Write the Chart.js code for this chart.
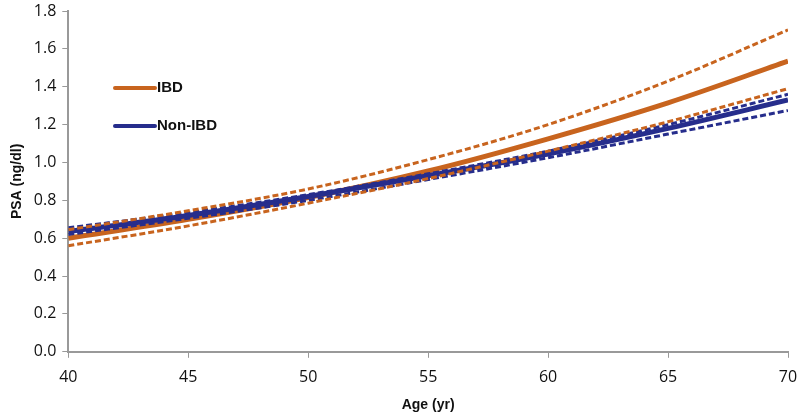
<!DOCTYPE html>
<html>
<head>
<meta charset="utf-8">
<script src="https://cdn.jsdelivr.net/npm/chart.js@4"></script>
<style>
  body { margin: 0; background: #fff; }
  #wrap { width: 800px; height: 416px; }
</style>
</head>
<body>
<div id="wrap"><canvas id="psaChart"></canvas></div>
<script>
const ages = [40, 45, 50, 55, 60, 65, 70];
const ibdMean = [0.60, 0.70, 0.815, 0.955, 1.125, 1.315, 1.535];
const ibdUpper = [0.645, 0.745, 0.86, 1.015, 1.20, 1.43, 1.70];
const ibdLower = [0.56, 0.665, 0.785, 0.915, 1.06, 1.215, 1.39];
const nonIbdMean = [0.635, 0.72, 0.82, 0.93, 1.045, 1.18, 1.33];
const nonIbdUpper = [0.655, 0.735, 0.83, 0.94, 1.06, 1.20, 1.36];
const nonIbdLower = [0.62, 0.705, 0.80, 0.91, 1.025, 1.15, 1.275];
const yTicks = [0, 0.2, 0.4, 0.6, 0.8, 1.0, 1.2, 1.4, 1.6, 1.8];

const orange = "#c8641e";
const navy = "#262d8c";

function points(vals) {
  return ages.map((a, i) => ({ x: a, y: vals[i] }));
}

function line(label, vals, color, dashed) {
  return {
    label: label,
    data: points(vals),
    borderColor: color,
    borderWidth: dashed ? 3 : 5,
    borderDash: dashed ? [6, 3] : [],
    pointRadius: 0,
    cubicInterpolationMode: "monotone",
    fill: false
  };
}

// legend drawn inside the plot area like the original
const legendInside = {
  id: "legendInside",
  afterDraw(chart) {
    const ctx = chart.ctx;
    const items = [["IBD", orange], ["Non-IBD", navy]];
    ctx.save();
    ctx.font = "bold 15px 'Liberation Sans', Arial, sans-serif";
    ctx.textBaseline = "middle";
    items.forEach((it, i) => {
      const y = 88 + i * 38;
      ctx.strokeStyle = it[1];
      ctx.lineWidth = 4;
      ctx.lineCap = "round";
      ctx.beginPath();
      ctx.moveTo(115, y);
      ctx.lineTo(155, y);
      ctx.stroke();
      ctx.fillStyle = "#111";
      ctx.fillText(it[0], 157, y);
    });
    ctx.restore();
  }
};

new Chart(document.getElementById("psaChart"), {
  type: "line",
  data: {
    datasets: [
      line("IBD upper", ibdUpper, orange, true),
      line("IBD lower", ibdLower, orange, true),
      line("Non-IBD upper", nonIbdUpper, navy, true),
      line("Non-IBD lower", nonIbdLower, navy, true),
      line("Non-IBD", nonIbdMean, navy, false),
      line("IBD", ibdMean, orange, false)
    ]
  },
  options: {
    responsive: true,
    maintainAspectRatio: false,
    animation: false,
    layout: { padding: { top: 0, right: 0, left: 5, bottom: 0 } },
    plugins: { legend: { display: false }, tooltip: { enabled: false } },
    scales: {
      x: {
        type: "linear",
        min: 40,
        max: 70,
        afterFit(scale) { scale.paddingRight = 12; },
        ticks: { stepSize: 5, color: "#111", font: { size: 16, family: "'Open Sans', sans-serif" }, padding: 10 },
        grid: { drawOnChartArea: false, color: "#999", tickLength: 6 },
        border: { color: "#999", width: 2 },
        title: { display: true, text: "Age (yr)", color: "#111", font: { size: 14, weight: "bold", lineHeight: 1.0, family: "'Liberation Sans', Arial, sans-serif" }, padding: { top: 1, bottom: 4 } }
      },
      y: {
        min: 0,
        max: 1.8,
        afterFit(scale) { scale.paddingTop = 11; },
        afterBuildTicks(axis) { axis.ticks = yTicks.map(v => ({ value: v })); },
        ticks: { color: "#111", font: { size: 16, family: "'Open Sans', sans-serif" }, padding: 6, callback: v => v.toFixed(1) },
        grid: { drawOnChartArea: false, color: "#999", tickLength: 6 },
        border: { color: "#999", width: 2 },
        title: { display: true, text: "PSA (ng/dl)", color: "#111", font: { size: 14, weight: "bold", family: "'Liberation Sans', Arial, sans-serif" }, padding: { bottom: 2 } }
      }
    }
  },
  plugins: [legendInside]
});
</script>
</body>
</html>
